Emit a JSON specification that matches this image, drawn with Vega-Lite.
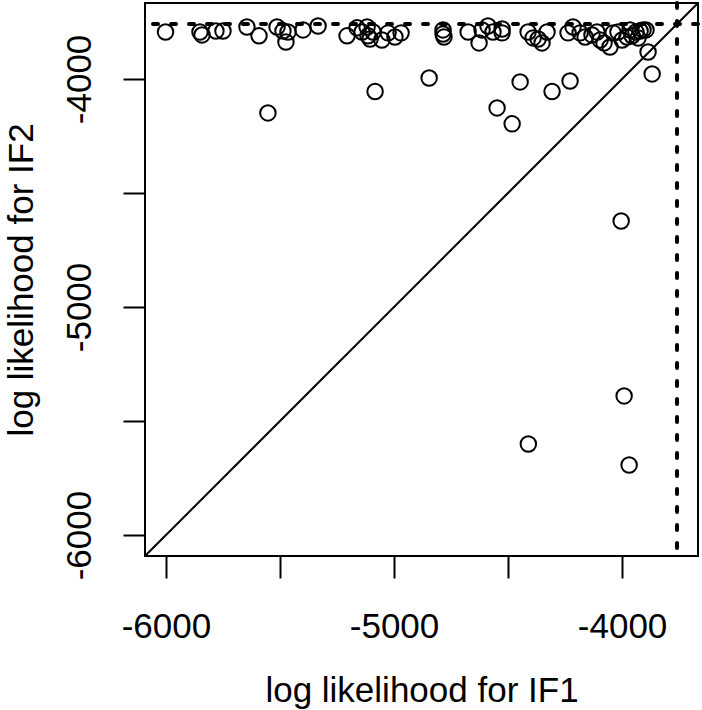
{
  "$schema": "https://vega.github.io/schema/vega-lite/v6.json",
  "width": 553,
  "height": 553,
  "autosize": {"type": "none"},
  "padding": {"left": 145, "top": 3, "right": 4, "bottom": 154},
  "background": "white",
  "config": {
    "view": {"stroke": "black", "strokeWidth": 2},
    "font": "Liberation Sans"
  },
  "datasets": {
    "pts": [
      {"if1": -6002, "if2": -3794}, {"if1": -5851, "if2": -3794}, {"if1": -5842, "if2": -3807},
      {"if1": -5781, "if2": -3790}, {"if1": -5750, "if2": -3790}, {"if1": -5645, "if2": -3772},
      {"if1": -5592, "if2": -3811}, {"if1": -5513, "if2": -3772}, {"if1": -5487, "if2": -3790},
      {"if1": -5474, "if2": -3838}, {"if1": -5465, "if2": -3794}, {"if1": -5399, "if2": -3785},
      {"if1": -5333, "if2": -3768}, {"if1": -5206, "if2": -3811}, {"if1": -5162, "if2": -3776},
      {"if1": -5140, "if2": -3794}, {"if1": -5118, "if2": -3772}, {"if1": -5114, "if2": -3811},
      {"if1": -5105, "if2": -3825}, {"if1": -5092, "if2": -3794}, {"if1": -5053, "if2": -3829},
      {"if1": -5026, "if2": -3798}, {"if1": -4996, "if2": -3816}, {"if1": -4969, "if2": -3798},
      {"if1": -4785, "if2": -3785}, {"if1": -4785, "if2": -3803}, {"if1": -4781, "if2": -3816},
      {"if1": -4675, "if2": -3794}, {"if1": -4627, "if2": -3842}, {"if1": -4614, "if2": -3785},
      {"if1": -4588, "if2": -3768}, {"if1": -4566, "if2": -3794}, {"if1": -4526, "if2": -3781},
      {"if1": -4526, "if2": -3798}, {"if1": -4412, "if2": -3794}, {"if1": -4390, "if2": -3820},
      {"if1": -4368, "if2": -3825}, {"if1": -4351, "if2": -3842}, {"if1": -4329, "if2": -3794},
      {"if1": -4237, "if2": -3798}, {"if1": -4215, "if2": -3772}, {"if1": -4184, "if2": -3798},
      {"if1": -4162, "if2": -3816}, {"if1": -4132, "if2": -3807}, {"if1": -4110, "if2": -3794},
      {"if1": -4096, "if2": -3829}, {"if1": -4079, "if2": -3842}, {"if1": -4053, "if2": -3860},
      {"if1": -4039, "if2": -3798}, {"if1": -4018, "if2": -3794}, {"if1": -4000, "if2": -3829},
      {"if1": -3978, "if2": -3816}, {"if1": -3965, "if2": -3785}, {"if1": -3956, "if2": -3811},
      {"if1": -3939, "if2": -3794}, {"if1": -3921, "if2": -3790}, {"if1": -3908, "if2": -3785},
      {"if1": -3895, "if2": -3785}, {"if1": -3930, "if2": -3820}, {"if1": -3886, "if2": -3882},
      {"if1": -3868, "if2": -3978}, {"if1": -5553, "if2": -4149}, {"if1": -5083, "if2": -4055},
      {"if1": -4846, "if2": -3996}, {"if1": -4447, "if2": -4013}, {"if1": -4307, "if2": -4055},
      {"if1": -4228, "if2": -4009}, {"if1": -4548, "if2": -4127}, {"if1": -4482, "if2": -4197},
      {"if1": -4004, "if2": -4623}, {"if1": -3991, "if2": -5390}, {"if1": -4411, "if2": -5601},
      {"if1": -3969, "if2": -5693}
    ],
    "diag": [{"x1": -6092, "y1": -6092, "x2": -3667, "y2": -3667}],
    "maxll": [{"v": -3759}]
  },
  "layer": [
    {
      "data": {"name": "diag"},
      "mark": {"type": "rule", "color": "black", "strokeWidth": 2, "clip": true},
      "encoding": {
        "x": {"field": "x1", "type": "quantitative", "scale": {"domain": [-6092, -3667], "nice": false, "zero": false},
          "axis": {
            "values": [-6000, -5500, -5000, -4500, -4000],
            "labelExpr": "datum.value % 1000 == 0 ? toString(datum.value) : ''",
            "domain": false, "grid": false,
            "tickSize": 22, "tickWidth": 2, "tickColor": "black",
            "labelFontSize": 35, "labelColor": "black", "labelFont": "Liberation Sans",
            "labelPadding": 59, "labelBaseline": "alphabetic", "labelFlush": false, "labelOverlap": false,
            "title": "log likelihood for IF1", "titleFontSize": 35, "titleFontWeight": "normal",
            "titleFont": "Liberation Sans", "titleColor": "black",
            "titleY": 145, "titleBaseline": "alphabetic"
          }},
        "y": {"field": "y1", "type": "quantitative", "scale": {"domain": [-6092, -3667], "nice": false, "zero": false},
          "axis": {
            "values": [-6000, -5500, -5000, -4500, -4000],
            "labelExpr": "datum.value % 1000 == 0 ? toString(datum.value) : ''",
            "domain": false, "grid": false,
            "tickSize": 22, "tickWidth": 2, "tickColor": "black",
            "labelFontSize": 35, "labelColor": "black", "labelFont": "Liberation Sans",
            "labelAngle": -90, "labelAlign": "center", "labelBaseline": "alphabetic",
            "labelPadding": 33, "labelFlush": false, "labelOverlap": false,
            "title": "log likelihood for IF2", "titleFontSize": 35, "titleFontWeight": "normal",
            "titleFont": "Liberation Sans", "titleColor": "black",
            "titleAngle": -90, "titleX": -113, "titleBaseline": "alphabetic"
          }},
        "x2": {"field": "x2"},
        "y2": {"field": "y2"}
      }
    },
    {
      "data": {"name": "maxll"},
      "mark": {"type": "rule", "color": "black", "strokeWidth": 4, "strokeDash": [5, 13], "strokeCap": "round"},
      "encoding": {"x": {"field": "v", "type": "quantitative"}}
    },
    {
      "data": {"name": "maxll"},
      "mark": {"type": "rule", "color": "black", "strokeWidth": 4, "strokeDash": [5, 13], "strokeCap": "round"},
      "encoding": {"y": {"field": "v", "type": "quantitative"}}
    },
    {
      "data": {"name": "pts"},
      "mark": {"type": "point", "shape": "circle", "filled": false, "color": "black", "strokeWidth": 2, "size": 240, "opacity": 1},
      "encoding": {
        "x": {"field": "if1", "type": "quantitative"},
        "y": {"field": "if2", "type": "quantitative"}
      }
    }
  ]
}
